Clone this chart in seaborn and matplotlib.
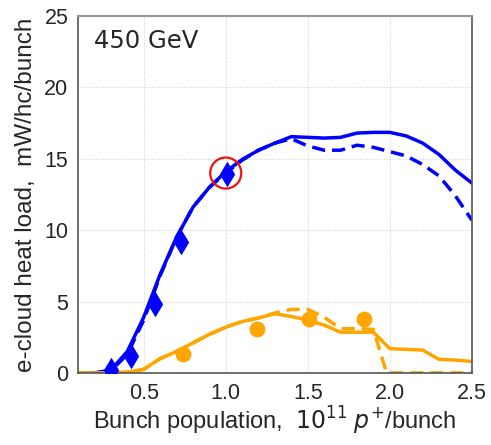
import matplotlib
matplotlib.use("Agg")
import matplotlib.pyplot as plt
import seaborn as sns
import pandas as pd

# ---- data ----
x_sim = [0.1, 0.2, 0.3, 0.4, 0.5, 0.6, 0.7, 0.8, 0.9, 1.0, 1.1, 1.2, 1.3, 1.4,
         1.5, 1.6, 1.7, 1.8, 1.9, 2.0, 2.1, 2.2, 2.3, 2.4, 2.5]
blue_solid = [0.0, 0.0, 0.2, 1.5, 3.9, 6.9, 9.5, 11.6, 13.0, 14.1, 14.95, 15.6, 16.1, 16.55,
              16.5, 16.45, 16.5, 16.8, 16.85, 16.85, 16.6, 16.1, 15.3, 14.2, 13.3]
blue_dash = [0.0, 0.0, 0.15, 1.3, 3.7, 6.8, 9.5, 11.6, 13.0, 14.0, 14.9, 15.6, 16.1, 16.4,
             15.9, 15.6, 15.6, 15.95, 15.8, 15.5, 15.2, 14.6, 13.8, 12.4, 10.7]
orange_solid = [0.0, 0.0, 0.0, 0.05, 0.25, 1.0, 1.5, 2.1, 2.7, 3.2, 3.6, 3.85, 4.15, 3.95,
                3.7, 3.35, 2.85, 2.85, 2.85, 1.7, 1.65, 1.6, 0.95, 0.9, 0.8]
x_odash = [0.1, 0.2, 0.3, 0.4, 0.5, 0.6, 0.7, 0.8, 0.9, 1.0, 1.1, 1.2, 1.3, 1.4,
           1.5, 1.6, 1.7, 1.8, 1.9, 1.98, 2.1, 2.2, 2.3, 2.4, 2.5]
orange_dash = [0.0, 0.0, 0.0, 0.05, 0.25, 1.0, 1.5, 2.1, 2.7, 3.2, 3.6, 3.85, 4.2, 4.45,
               4.45, 3.9, 3.1, 3.1, 3.05, 0.0, 0.0, 0.0, 0.0, 0.0, 0.0]
x_meas_blue = [0.30, 0.42, 0.567, 0.73, 1.01]
y_meas_blue = [0.2, 1.15, 4.8, 9.15, 13.9]
x_meas_orange = [0.74, 1.19, 1.51, 1.84]
y_meas_orange = [1.3, 3.1, 3.8, 3.8]
highlight_x = [1.0]
highlight_y = [14.0]

x_ticks = [0.5, 1.0, 1.5, 2.0, 2.5]
y_ticks = [0, 5, 10, 15, 20, 25]

BLUE = "#0000FF"
ORANGE = "#FFA500"

sns.set_style("white")
plt.rcParams['font.family'] = ['Liberation Sans', 'DejaVu Sans']
plt.rcParams['mathtext.fontset'] = 'dejavusans'

fig = plt.figure(figsize=(4.91, 4.45), dpi=100)
ax = fig.add_axes([0.159, 0.162, 0.802, 0.802])

df_bs = pd.DataFrame({"x": x_sim, "y": blue_solid})
df_bd = pd.DataFrame({"x": x_sim, "y": blue_dash})
df_os = pd.DataFrame({"x": x_sim, "y": orange_solid})
df_od = pd.DataFrame({"x": x_odash, "y": orange_dash})

LW = 2.5
DASH = (0, (3.8, 2.0))
sns.lineplot(data=df_bd, x="x", y="y", ax=ax, color=BLUE, lw=LW, linestyle=DASH)
sns.lineplot(data=df_bs, x="x", y="y", ax=ax, color=BLUE, lw=LW)
sns.lineplot(data=df_od, x="x", y="y", ax=ax, color=ORANGE, lw=LW, linestyle=DASH)
sns.lineplot(data=df_os, x="x", y="y", ax=ax, color=ORANGE, lw=LW)

sns.scatterplot(x=x_meas_blue, y=y_meas_blue, ax=ax, marker="d", s=170, color=BLUE,
                edgecolor=BLUE, linewidth=0, zorder=5)
sns.scatterplot(x=x_meas_orange, y=y_meas_orange, ax=ax, marker="o", s=130, color=ORANGE,
                edgecolor=ORANGE, linewidth=0, zorder=5)
ax.scatter(highlight_x, highlight_y, s=500, facecolors="none", edgecolors="#EE1111",
           linewidths=1.6, zorder=6)

ax.set_xlim(0.1, 2.5)
ax.set_ylim(0, 25)
ax.set_xticks(x_ticks)
ax.set_xticklabels([f"{v:.1f}" for v in x_ticks])
ax.set_yticks(y_ticks)
ax.tick_params(axis="both", labelsize=15.5, length=3, color="#555555", pad=4)
ax.grid(True, color="#D8D8D8", linestyle=(0, (1, 1.2)), linewidth=0.8)

for side in ["left", "bottom", "right"]:
    ax.spines[side].set_color("#555555")
    ax.spines[side].set_linewidth(1.2)
ax.spines["top"].set_color("#999999")
ax.spines["top"].set_linewidth(1.6)

ax.set_xlabel("Bunch population,  $10^{11}$ $p^{+}$/bunch", fontsize=17, labelpad=1)
ax.set_ylabel("e-cloud heat load,  mW/hc/bunch", fontsize=17.5, labelpad=5)

ax.text(0.04, 0.965, "450 GeV", transform=ax.transAxes, fontsize=17.5,
        family="DejaVu Sans", va="top", ha="left")

fig.savefig("out.png", dpi=100)
